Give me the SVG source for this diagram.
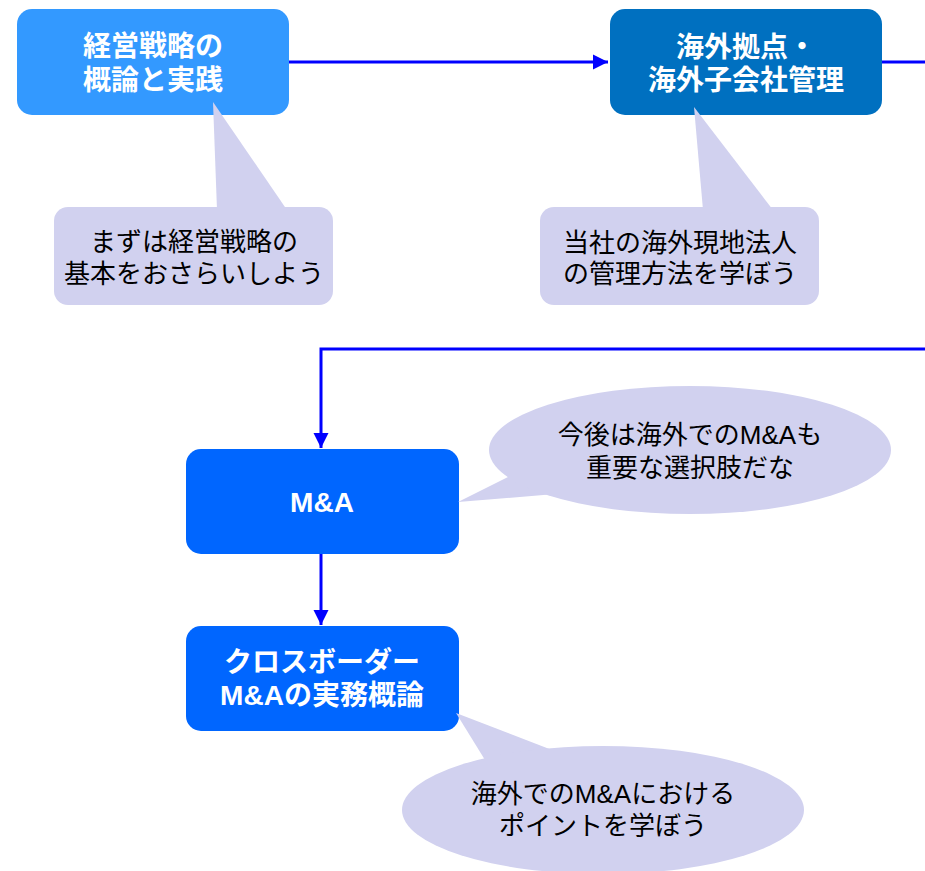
<svg xmlns="http://www.w3.org/2000/svg" width="925" height="871" viewBox="0 0 925 871">
  <style>
    .node-t { font-family: "Liberation Sans", "Noto Sans CJK JP", sans-serif; font-weight: bold; font-size: 28px; fill: #FFFFFF; text-anchor: middle; }
    .call-t { font-family: "Liberation Sans", "Noto Sans CJK JP", sans-serif; font-size: 26px; fill: #000000; text-anchor: middle; }
    .callout { fill: #D1D1EF; stroke: none; }
    .conn { fill: none; stroke: #0000FF; stroke-width: 3; }
  </style>
  <defs>
    <marker id="arrow" markerUnits="userSpaceOnUse" markerWidth="16" markerHeight="16" viewBox="0 0 16 16" refX="15" refY="8" orient="auto">
      <path d="M0,0.5 L15,8 L0,15.5 Z" fill="#0000FF"/>
    </marker>
  </defs>
  <rect width="925" height="871" fill="#FFFFFF"/>

  <g id="connectors">
    <path class="conn" d="M289,62 L608,62" marker-end="url(#arrow)"/>
    <path class="conn" d="M882,62 L930,62"/>
    <path class="conn" d="M930,349 L321,349 L321,448" marker-end="url(#arrow)"/>
    <path class="conn" d="M321,554 L321,625" marker-end="url(#arrow)"/>
  </g>

  <g id="node-strategy">
    <rect x="17" y="9" width="272" height="106" rx="15" fill="#3399FF"/>
    <text class="node-t" x="153" y="56">経営戦略の</text>
    <text class="node-t" x="153" y="90">概論と実践</text>
  </g>

  <g id="node-overseas">
    <rect x="610" y="9" width="272" height="106" rx="15" fill="#0070C0"/>
    <text class="node-t" x="746" y="57">海外拠点・</text>
    <text class="node-t" x="746" y="90">海外子会社管理</text>
  </g>

  <g id="node-ma">
    <rect x="186" y="449" width="273" height="105" rx="15" fill="#0066FF"/>
    <text class="node-t" x="322" y="512" font-size="29">M&amp;A</text>
  </g>

  <g id="node-crossborder">
    <rect x="186" y="626" width="273" height="105" rx="15" fill="#0066FF"/>
    <text class="node-t" x="322" y="672">クロスボーダー</text>
    <text class="node-t" x="322" y="705">M&amp;Aの実務概論</text>
  </g>

  <g id="callout-strategy">
    <path class="callout" d="M213,102 L217,210 L287,210 Z"/>
    <rect class="callout" x="54" y="207" width="279" height="98" rx="14"/>
    <text class="call-t" x="194" y="251">まずは経営戦略の</text>
    <text class="call-t" x="194" y="283">基本をおさらいしよう</text>
  </g>

  <g id="callout-overseas">
    <path class="callout" d="M694,107 L703,210 L773,210 Z"/>
    <rect class="callout" x="540" y="207" width="279" height="98" rx="14"/>
    <text class="call-t" x="680" y="252">当社の海外現地法人</text>
    <text class="call-t" x="680" y="283">の管理方法を学ぼう</text>
  </g>

  <g id="callout-ma">
    <path class="callout" d="M458,502 L510,476 L555,494 Z"/>
    <ellipse class="callout" cx="690" cy="450" rx="201" ry="64"/>
    <text class="call-t" x="690" y="444">今後は海外でのM&amp;Aも</text>
    <text class="call-t" x="690" y="477">重要な選択肢だな</text>
  </g>

  <g id="callout-crossborder">
    <path class="callout" d="M456,713 L552,750 L485,760 Z"/>
    <ellipse class="callout" cx="603" cy="810" rx="201" ry="64"/>
    <text class="call-t" x="603" y="803">海外でのM&amp;Aにおける</text>
    <text class="call-t" x="603" y="835">ポイントを学ぼう</text>
  </g>
</svg>
